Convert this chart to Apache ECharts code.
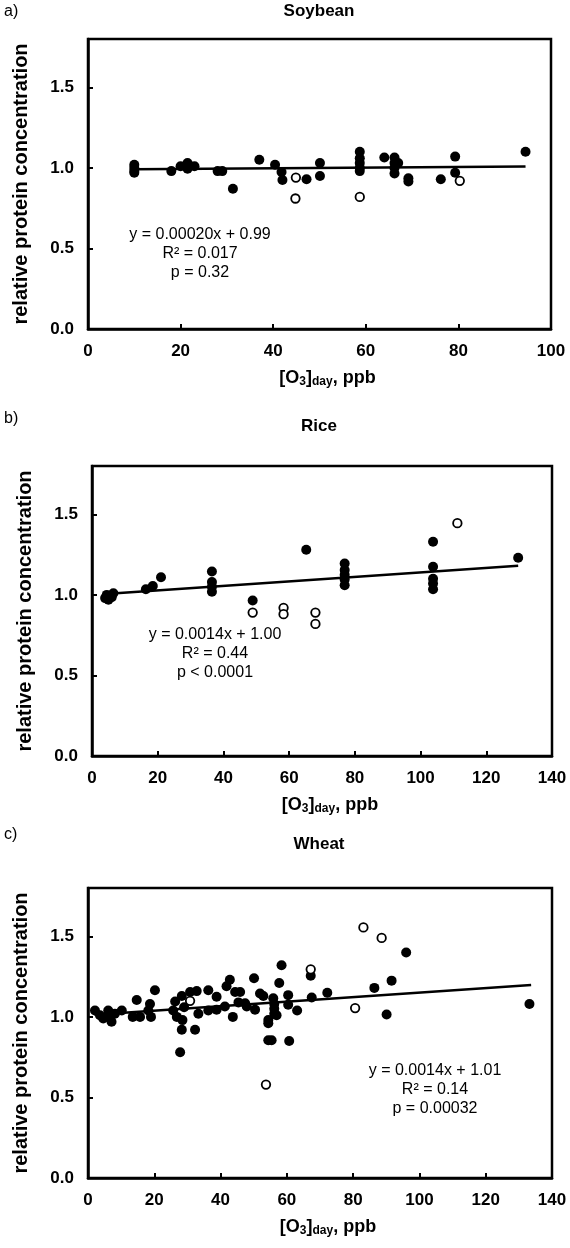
<!DOCTYPE html>
<html>
<head>
<meta charset="utf-8">
<script src="https://cdn.jsdelivr.net/npm/echarts@6/dist/echarts.min.js"></script>
<style>
  html, body { margin: 0; padding: 0; background: #fff; }
  #chart { width: 570px; height: 1248px; }
</style>
</head>
<body>
<div id="chart"></div>
<script>
// Relative protein concentration vs daytime ozone, three crops.
// Filled = one group of studies, open = the other.
const soyFilled = [[10,1.02],[10,1.00],[10,0.98],[10,0.97],[18,0.98],[20,1.01],[21.5,1.03],[21.5,0.995],[23,1.01],[28,0.98],[29,0.98],[31.3,0.87],[37,1.05],[40.4,1.02],[41.8,0.975],[42,0.925],[47.2,0.93],[50.1,1.03],[50.1,0.95],[58.7,1.10],[58.7,1.06],[58.7,1.03],[58.7,1.00],[58.7,0.98],[64,1.065],[66.2,1.065],[66.2,1.03],[66.2,1.0],[66.2,0.965],[67,1.03],[69.2,0.935],[69.2,0.915],[76.2,0.93],[79.3,1.07],[79.3,0.97],[94.5,1.10]];
const soyOpen = [[44.9,0.94],[44.8,0.81],[58.7,0.82],[80.3,0.92]];

const riceFilled = [[4,0.98],[4.5,1.0],[5,0.97],[5.5,0.99],[6,0.985],[6.5,1.01],[16.4,1.035],[18.5,1.055],[21,1.11],[36.5,1.145],[36.5,1.08],[36.5,1.05],[36.5,1.02],[48.9,0.965],[65.2,1.28],[76.9,1.195],[76.9,1.155],[76.9,1.125],[76.9,1.095],[76.9,1.06],[103.8,1.33],[103.8,1.175],[103.8,1.10],[103.8,1.07],[103.8,1.035],[129.7,1.23]];
const riceOpen = [[48.9,0.89],[58.3,0.92],[58.3,0.88],[68,0.89],[68,0.82],[111.2,1.445]];

const wheatFilled = [[2.1,1.04],[3.6,1.01],[4.6,0.99],[6.1,1.04],[6.6,1.0],[7.1,0.97],[8.1,1.02],[10.2,1.04],[13.5,1.0],[14.7,1.105],[15.7,1.0],[18.2,1.04],[18.7,1.08],[19,1.0],[20.2,1.165],[25.7,1.04],[26.3,1.095],[26.8,1.0],[27.8,0.78],[28.3,0.92],[28.5,0.98],[28.3,1.13],[29,1.06],[30.8,1.155],[32.3,0.92],[32.8,1.16],[33.3,1.02],[36.3,1.165],[36.3,1.04],[38.8,1.045],[38.8,1.125],[41.3,1.065],[41.8,1.19],[42.8,1.23],[43.7,1.0],[44.4,1.155],[45.4,1.09],[45.9,1.155],[47.4,1.085],[47.9,1.065],[50.1,1.24],[50.4,1.045],[51.9,1.145],[52.9,1.13],[54.4,0.98],[54.4,0.96],[54.4,0.855],[55.4,0.855],[55.9,1.115],[56.2,1.08],[56.2,1.05],[56.2,1.02],[56.9,1.01],[57.7,1.21],[58.4,1.32],[60.4,1.135],[60.4,1.075],[60.7,0.85],[63.1,1.04],[67.2,1.255],[67.5,1.12],[72.2,1.15],[86.4,1.18],[90.1,1.015],[91.6,1.225],[96,1.40],[133.2,1.08]];
const wheatOpen = [[30.8,1.10],[53.7,0.58],[67.2,1.295],[80.6,1.055],[83.1,1.555],[88.6,1.49]];

// Fitted lines: slope, intercept, x range of the data
const trendSlope = [0.00020, 0.0014, 0.0014];
const trendIntercept = [0.99, 1.00, 1.01];
const trendRange = [[10, 94.5], [4, 129.7], [2, 133.7]];

const panelLetters = ['a)', 'b)', 'c)'];
const panelTitles = ['Soybean', 'Rice', 'Wheat'];
const statLines = [
  ['y = 0.00020x + 0.99', 'R² = 0.017', 'p = 0.32'],
  ['y = 0.0014x + 1.00', 'R² = 0.44', 'p < 0.0001'],
  ['y = 0.0014x + 1.01', 'R² = 0.14', 'p = 0.00032']
];
const xMax = [100, 140, 140];

const FONT = '"Liberation Sans", Arial, sans-serif';

const grids = [
  { left: 88, top: 39, width: 463, height: 290 },
  { left: 92, top: 466, width: 460, height: 290 },
  { left: 88, top: 888, width: 464, height: 290 }
];
const letterTop = [4, 411, 827];
const titleTop = [3, 418, 836];
const statPos = [[200, 227], [215, 627], [435, 1063]];

const filled = [soyFilled, riceFilled, wheatFilled];
const open = [soyOpen, riceOpen, wheatOpen];

const option = {
  animation: false,
  backgroundColor: '#fff',
  grid: grids.map(g => Object.assign({ show: true, borderColor: '#000', borderWidth: 2.5, backgroundColor: 'transparent' }, g)),
  xAxis: grids.map((g, i) => ({
    type: 'value', gridIndex: i, min: 0, max: xMax[i], interval: 20,
    splitLine: { show: false },
    axisLine: { lineStyle: { color: '#000', width: 2.5 } },
    axisTick: { inside: true, length: 5, lineStyle: { color: '#000', width: 2 } },
    axisLabel: { color: '#000', fontFamily: FONT, fontWeight: 'bold', fontSize: 17, margin: 14 },
    name: '{b|[O}{s|3}{b|]}{s|day}{b|, ppb}',
    nameLocation: 'middle', nameGap: 39,
    nameTextStyle: {
      padding: [0, 0, 0, 16],
      rich: {
        b: { fontFamily: FONT, fontWeight: 'bold', fontSize: 18, color: '#000', lineHeight: 20 },
        s: { fontFamily: FONT, fontWeight: 'bold', fontSize: 12, color: '#000', lineHeight: 11, verticalAlign: 'bottom' }
      }
    }
  })),
  yAxis: grids.map((g, i) => ({
    type: 'value', gridIndex: i, min: 0, max: 1.8, interval: 0.5,
    splitLine: { show: false },
    axisLine: { lineStyle: { color: '#000', width: 2.5 } },
    axisTick: { inside: true, length: 5, lineStyle: { color: '#000', width: 2 } },
    axisLabel: {
      color: '#000', fontFamily: FONT, fontWeight: 'bold', fontSize: 17, margin: 14,
      formatter: v => (Math.abs(v * 2 - Math.round(v * 2)) < 1e-6 ? v.toFixed(1) : '')
    },
    name: 'relative protein concentration',
    nameLocation: 'middle', nameGap: 57, nameRotate: 90,
    nameTextStyle: { color: '#000', fontFamily: FONT, fontWeight: 'bold', fontSize: 20 }
  })),
  graphic: [],
  series: []
};

for (let i = 0; i < 3; i++) {
  const r = trendRange[i];
  option.series.push({
    type: 'line', xAxisIndex: i, yAxisIndex: i, showSymbol: false, symbol: 'none',
    data: r.map(x => [x, trendSlope[i] * x + trendIntercept[i]]),
    lineStyle: { color: '#000', width: 2.5 }, z: 2
  });
  option.series.push({
    type: 'scatter', xAxisIndex: i, yAxisIndex: i, symbol: 'circle', symbolSize: 10,
    data: filled[i], itemStyle: { color: '#000', opacity: 1 }, z: 3
  });
  option.series.push({
    type: 'scatter', xAxisIndex: i, yAxisIndex: i, symbol: 'circle', symbolSize: 8.5,
    data: open[i], itemStyle: { color: '#fff', borderColor: '#000', borderWidth: 1.8, opacity: 1 }, z: 4
  });

  option.graphic.push({
    type: 'text', left: 4, top: letterTop[i],
    style: { text: panelLetters[i], fontFamily: FONT, fontSize: 16, fill: '#000' }
  });
  option.graphic.push({
    type: 'text', x: 319, y: titleTop[i],
    style: { text: panelTitles[i], fontFamily: FONT, fontWeight: 'bold', fontSize: 17, fill: '#000', textAlign: 'center' }
  });
  statLines[i].forEach((t, k) => {
    option.graphic.push({
      type: 'text', x: statPos[i][0], y: statPos[i][1] + k * 19,
      style: { text: t, fontFamily: FONT, fontSize: 16, fill: '#000', textAlign: 'center' }
    });
  });
}

const chart = echarts.init(document.getElementById('chart'), null, { renderer: 'canvas' });
chart.setOption(option);
</script>
</body>
</html>
